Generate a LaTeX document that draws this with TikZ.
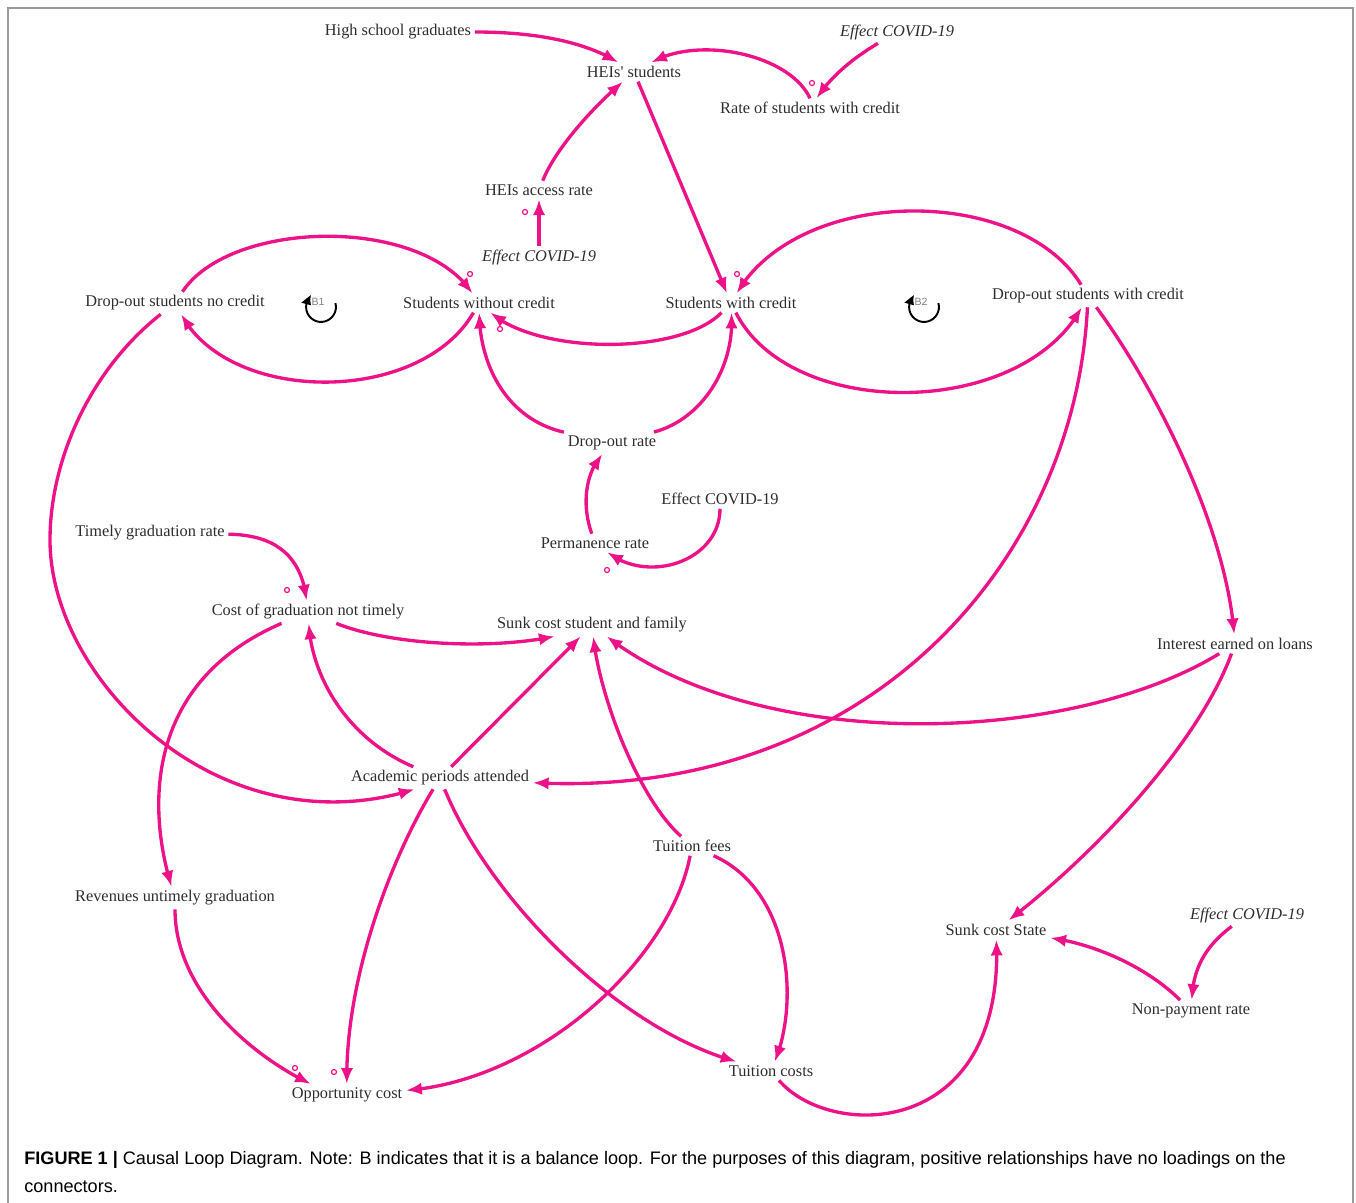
\documentclass[tikz,border=0pt]{standalone}
\usepackage{fontspec}
\setmainfont{Liberation Serif}
\newfontfamily\capfont{Liberation Sans}
\usetikzlibrary{arrows.meta, bending}
\definecolor{clpink}{RGB}{238,18,137}
\definecolor{txtgray}{RGB}{45,45,45}

\tikzset{
  var/.style={inner sep=2pt, text=txtgray, font=\fontsize{9.3}{11}\selectfont},
  cov/.style={var, font=\fontsize{9.3}{11}\selectfont\itshape},
  link/.style={clpink, line width=1.9pt, -{Latex[length=9pt,width=7pt]}},
  pol/.style={clpink, line width=0.7pt},
  loopsym/.style={black, line width=1.1pt, -{Latex[length=6pt,width=6pt,bend]}},
  looplbl/.style={text=gray, font=\capfont\fontsize{6}{7}\selectfont, inner sep=0pt},
}

\begin{document}
\begin{tikzpicture}[x=0.02cm,y=-0.02cm]
\useasboundingbox (0,0) rectangle (1356,1203);

% Frame
\draw[gray!80, line width=0.8pt] (8,1203) -- (8,8) -- (1353,8) -- (1353,1203);

% Variables
\node[var] (hsg) at (398,32) {High school graduates};
\node[var] (heis) at (634,72) {HEIs\textquotesingle{} students};
\node[cov] (covA) at (897,32) {Effect COVID-19};
\node[var] (rate) at (810,108) {Rate of students with credit};
\node[var] (access) at (539,190) {HEIs access rate};
\node[cov] (covB) at (539,257) {Effect COVID-19};
\node[var] (dnc) at (175,303) {Drop-out students no credit};
\node[var] (swo) at (479,303) {Students without credit};
\node[var] (swc) at (731,303) {Students with credit};
\node[var] (dwc) at (1088,296) {Drop-out students with credit};
\node[var] (dor) at (612,443) {Drop-out rate};
\node[var] (covC) at (720,499) {Effect COVID-19};
\node[var] (perm) at (595,543) {Permanence rate};
\node[var] (tgr) at (150,533) {Timely graduation rate};
\node[var] (cgnt) at (308,612) {Cost of graduation not timely};
\node[var] (sunk) at (592,625) {Sunk cost student and family};
\node[var] (interest) at (1235,644) {Interest earned on loans};
\node[var] (apa) at (440,778) {Academic periods attended};
\node[var] (fees) at (692,846) {Tuition fees};
\node[var] (rev) at (175,898) {Revenues untimely graduation};
\node[var] (scs) at (996,930) {Sunk cost State};
\node[cov] (covD) at (1247,915) {Effect COVID-19};
\node[var] (npr) at (1191,1011) {Non-payment rate};
\node[var] (tc) at (771,1071) {Tuition costs};
\node[var] (opp) at (347,1095) {Opportunity cost};

% Loop markers
\draw[loopsym] ([shift={(15:8.5pt)}]321,307) arc[start angle=15, end angle=-232, radius=8.5pt];
\node[looplbl] (b1) at (318,302) {B1};
\draw[loopsym] ([shift={(15:8.5pt)}]924,307) arc[start angle=15, end angle=-232, radius=8.5pt];
\node[looplbl] (b2) at (921,302) {B2};

% Connectors, upper part
\draw[link] (hsg) .. controls (545,32) and (590,45) .. (heis);
\draw[link] (rate.north) .. controls (790,55) and (700,35) .. (heis);
\draw[link] (covA) .. controls (850,60) and (830,78) .. (rate);
\draw[link] (access) .. controls (555,150) and (590,110) .. (heis);
\draw[link] (covB) -- (access);
\draw[link] (heis) -- (swc);
\draw[link] (swc) .. controls (790,420) and (1020,420) .. (dwc);
\draw[link] (dwc) .. controls (1020,185) and (800,185) .. (swc);
\draw[link] (dnc) .. controls (230,220) and (420,215) .. (swo);
\draw[link] (swo) .. controls (420,405) and (230,405) .. (dnc);
\draw[link] (swc) .. controls (680,355) and (540,355) .. (swo);
\draw[link] (dor) .. controls (510,420) and (480,370) .. (swo);
\draw[link] (dor) .. controls (700,420) and (735,370) .. (swc);
\draw[link] (perm) .. controls (580,500) and (588,470) .. (dor);
\draw[link] (covC) .. controls (720,560) and (650,585) .. (perm);

% Connectors, lower part
\draw[link] (tgr) .. controls (280,535) and (302,560) .. (cgnt);
\draw[link] (cgnt) .. controls (390,645) and (490,650) .. (sunk.197);
\draw[link] (apa) .. controls (350,740) and (312,680) .. (cgnt);
\draw[link] (apa) -- (sunk);
\draw[link] (fees) .. controls (640,800) and (600,700) .. (sunk);
\draw[link] (interest) .. controls (1070,745) and (760,755) .. (sunk);
\draw[link] (dwc) .. controls (1075,560) and (870,800) .. (apa);
\draw[link] (dnc) .. controls (90,370) and (50,460) .. (50,540)
    .. controls (50,680) and (220,850) .. (apa.204);
\draw[link] (dwc) .. controls (1150,380) and (1225,520) .. (interest);
\draw[link] (interest) .. controls (1200,740) and (1100,850) .. (scs);
\draw[link] (npr) .. controls (1150,970) and (1100,945) .. (scs);
\draw[link] (covD) .. controls (1200,950) and (1193,975) .. (npr);
\draw[link] (tc) .. controls (830,1140) and (1005,1140) .. (scs);
\draw[link] (fees) .. controls (790,890) and (800,1000) .. (tc);
\draw[link] (apa) .. controls (490,900) and (620,1030) .. (tc);
\draw[link] (apa) .. controls (390,860) and (345,980) .. (opp);
\draw[link] (fees) .. controls (670,960) and (540,1080) .. (opp);
\draw[link] (rev) .. controls (175,990) and (250,1055) .. (opp.163);
\draw[link] (cgnt) .. controls (150,680) and (145,800) .. (rev);

% Polarity marks
\foreach \p in {(812,83),(525,212),(470,274),(737,274),(500,329),(607,570),(287,590),(295,1068),(334,1072)}
  \draw[pol] \p circle (2.5);

% Caption
\node[anchor=west, inner sep=0pt, font=\capfont\fontsize{10.3}{12}\selectfont] (cap1) at (24,1160)
  {\textbf{FIGURE 1 |} Causal Loop Diagram. Note: B indicates that it is a balance loop. For the purposes of this diagram, positive relationships have no loadings on the};
\node[anchor=west, inner sep=0pt, font=\capfont\fontsize{10.3}{12}\selectfont] (cap2) at (24,1187) {connectors.};
\end{tikzpicture}
\end{document}
